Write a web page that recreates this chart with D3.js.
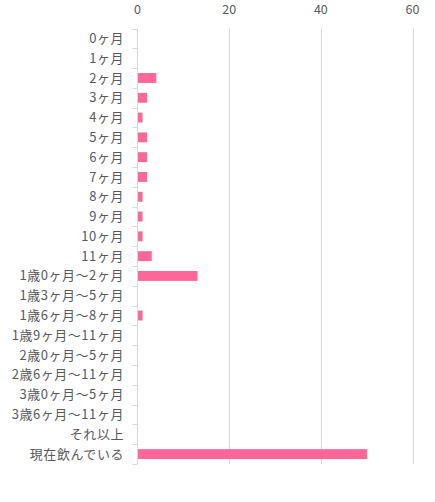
<!DOCTYPE html>
<html><head><meta charset="utf-8">
<script src="https://cdn.jsdelivr.net/npm/d3@7"></script>
<style>body{margin:0;background:#fff}svg{display:block}</style>
</head><body>
<svg id="c" width="435" height="502"></svg>
<script>
const categories = ["0ヶ月","1ヶ月","2ヶ月","3ヶ月","4ヶ月","5ヶ月","6ヶ月","7ヶ月","8ヶ月","9ヶ月","10ヶ月","11ヶ月","1歳0ヶ月〜2ヶ月","1歳3ヶ月〜5ヶ月","1歳6ヶ月〜8ヶ月","1歳9ヶ月〜11ヶ月","2歳0ヶ月〜5ヶ月","2歳6ヶ月〜11ヶ月","3歳0ヶ月〜5ヶ月","3歳6ヶ月〜11ヶ月","それ以上","現在飲んでいる"];
const values = [0,0,4,2,1,2,2,2,1,1,1,3,13,0,1,0,0,0,0,0,0,50];
const xTicks = [0,20,40,60];

const svg = d3.select("#c");
const mLeft = 137.5, mRight = 412.5, mTop = 28.5, mBottom = 464;
const x = d3.scaleLinear().domain([0,60]).range([mLeft,mRight]);
const y = d3.scaleBand().domain(categories).range([mTop,mBottom]).paddingInner(0.5).paddingOuter(0.25);
const font = "'Noto Sans CJK JP', sans-serif";

// gridlines
svg.append("g").selectAll("line").data(xTicks.filter(d=>d>0)).join("line")
  .attr("x1",d=>Math.round(x(d))+0.5).attr("x2",d=>Math.round(x(d))+0.5)
  .attr("y1",mTop).attr("y2",mBottom)
  .attr("stroke","#d9d9d9").attr("stroke-width",1);

// top tick labels
svg.append("g").selectAll("text").data(xTicks).join("text")
  .attr("x",d=>x(d)).attr("y",14)
  .attr("text-anchor","middle")
  .attr("font-family",font).attr("font-size",12.5).attr("fill","#595959")
  .text(d=>d);

// bars
svg.append("g").selectAll("rect").data(categories.map((c,i)=>({c,v:values[i]})).filter(d=>d.v>0)).join("rect")
  .attr("x",x(0)+0.5).attr("y",d=>y(d.c))
  .attr("width",d=>x(d.v)-x(0)).attr("height",y.bandwidth())
  .attr("fill","#ff6699");

// left axis
const boundaries = d3.range(categories.length+1).map(i=>mTop + i*(mBottom-mTop)/categories.length);
svg.append("line").attr("x1",mLeft).attr("x2",mLeft).attr("y1",mTop).attr("y2",mBottom)
  .attr("stroke","#d9d9d9").attr("stroke-width",1);
svg.append("g").selectAll("line").data(boundaries).join("line")
  .attr("x1",mLeft-5).attr("x2",mLeft).attr("y1",d=>Math.round(d)+0.5).attr("y2",d=>Math.round(d)+0.5)
  .attr("stroke","#d9d9d9").attr("stroke-width",1);

// category labels
svg.append("g").selectAll("text").data(categories).join("text")
  .attr("x",124).attr("y",d=>y(d)+y.bandwidth()/2)
  .attr("dy","0.35em")
  .attr("text-anchor","end")
  .attr("font-family",font).attr("font-size",13).attr("letter-spacing",0.55).attr("fill","#595959")
  .text(d=>d);
</script>
</body></html>
